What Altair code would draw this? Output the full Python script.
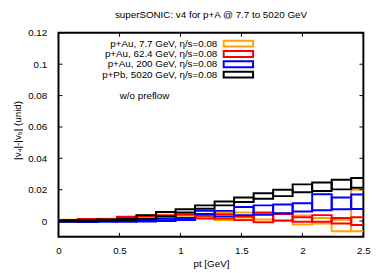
import altair as alt
import pandas as pd

# ---------------- data ----------------
bin_edges = [0.00, 0.16, 0.32, 0.48, 0.64, 0.80, 0.96, 1.12, 1.28, 1.44,
             1.60, 1.76, 1.92, 2.08, 2.24, 2.40, 2.56]

series_names = ["p+Au, 7.7 GeV, η/s=0.08", "p+Au, 62.4 GeV, η/s=0.08",
                "p+Au, 200 GeV, η/s=0.08", "p+Pb, 5020 GeV, η/s=0.08"]
series_colors = ["#FFA500", "#FF0000", "#0000FF", "#000000"]

orange_lo = [0.0002, 0.0000, 0.0005, 0.0005, 0.0015, 0.0020, 0.0025, 0.0028,
             0.0006, 0.0010, 0.0010, 0.0000, -0.0022, -0.0015, -0.0065, -0.0065]
orange_hi = [0.0008, 0.0010, 0.0015, 0.0020, 0.0038, 0.0040, 0.0045, 0.0038,
             0.0054, 0.0054, 0.0052, 0.0048, 0.0036, 0.0020, 0.0008, 0.0200]

red_lo = [0.0000, 0.0003, 0.0003, 0.0010, 0.0010, 0.0015, 0.0020, 0.0017,
          0.0017, 0.0006, -0.0008, 0.0004, -0.0004, -0.0004, -0.0015, -0.0025]
red_hi = [0.0005, 0.0013, 0.0010, 0.0027, 0.0030, 0.0035, 0.0040, 0.0034,
          0.0044, 0.0028, 0.0054, 0.0045, 0.0025, 0.0038, 0.0019, 0.0025]

blue_lo = [-0.0005, -0.0006, -0.0004, -0.0004, -0.0003, 0.0000, 0.0007, 0.0045,
           0.0030, 0.0038, 0.0040, 0.0050, 0.0061, 0.0069, 0.0075, 0.0077]
blue_hi = [0.0000, 0.0000, 0.0002, 0.0003, 0.0010, 0.0015, 0.0020, 0.0065,
           0.0065, 0.0090, 0.0100, 0.0105, 0.0114, 0.0171, 0.0150, 0.0170]

black_lo = [-0.0003, -0.0002, 0.0000, 0.0003, 0.0015, 0.0030, 0.0054, 0.0079,
            0.0100, 0.0121, 0.0142, 0.0159, 0.0184, 0.0192, 0.0202, 0.0212]
black_hi = [0.0005, 0.0006, 0.0010, 0.0015, 0.0038, 0.0058, 0.0075, 0.0100,
            0.0125, 0.0150, 0.0178, 0.0200, 0.0234, 0.0246, 0.0263, 0.0275]

x_ticks = [0, 0.5, 1, 1.5, 2, 2.5]
y_ticks = [0, 0.02, 0.04, 0.06, 0.08, 0.1, 0.12]

title_text = "superSONIC: v4 for p+A @ 7.7 to 5020 GeV"
x_title = "pt [GeV]"
y_title = "|v₄|-|v₅| (unid)"
note_text = "w/o preflow"

# ---------------- tables ----------------
lows = [orange_lo, red_lo, blue_lo, black_lo]
highs = [orange_hi, red_hi, blue_hi, black_hi]
rows = []
for name, lo, hi in zip(series_names, lows, highs):
    for i in range(len(lo)):
        rows.append({"series": name, "x0": bin_edges[i], "x1": bin_edges[i + 1],
                     "lo": lo[i], "hi": hi[i]})
df = pd.DataFrame(rows)

leg_df = pd.DataFrame({"label": series_names, "color": series_colors,
                       "row": list(range(len(series_names)))})

W, H = 311, 208
FONT = "Liberation Sans"

xscale = alt.Scale(domain=[0, 2.5], nice=False, zero=False)
yscale = alt.Scale(domain=[-0.01, 0.12], nice=False, zero=False)

x_axis = alt.Axis(values=x_ticks, format=".1~f", tickSize=0, domain=False,
                  grid=False, labelPadding=9, labelFlush=False,
                  labelOverlap=False, labelFont=FONT, labelFontSize=10,
                  labelColor="black", title=x_title, titleFont=FONT,
                  titleFontSize=10, titleFontWeight="normal",
                  titleColor="black", titleX=W / 2, titleY=27.5,
                  titleBaseline="middle")
y_axis = alt.Axis(values=y_ticks, format=".2~f", tickSize=0, domain=False,
                  grid=False, labelPadding=12, labelFlush=False,
                  labelOverlap=False, labelFont=FONT, labelFontSize=10,
                  labelColor="black", title=y_title, titleFont=FONT,
                  titleFontSize=10, titleFontWeight="normal",
                  titleColor="black", titleX=-41.5, titleY=H / 2 - 5,
                  titleBaseline="middle")

boxes = alt.Chart(df).mark_rect(fillOpacity=0, strokeWidth=2, clip=True).encode(
    x=alt.X("x0:Q", scale=xscale, axis=x_axis, title=x_title),
    x2="x1:Q",
    y=alt.Y("lo:Q", scale=yscale, axis=y_axis, title=y_title),
    y2="hi:Q",
    stroke=alt.Stroke("series:N", scale=alt.Scale(domain=series_names,
                                                   range=series_colors),
                      legend=None),
)

xt = pd.DataFrame({"t": x_ticks})
yt = pd.DataFrame({"t": y_ticks})
tick_len = 4
xt_bottom = alt.Chart(xt).mark_rule(color="black", strokeWidth=1).encode(
    x=alt.X("t:Q", scale=xscale, axis=x_axis, title=x_title),
    y=alt.value(H), y2=alt.value(H - tick_len))
xt_top = alt.Chart(xt).mark_rule(color="black", strokeWidth=1).encode(
    x=alt.X("t:Q", scale=xscale, axis=x_axis, title=x_title),
    y=alt.value(0), y2=alt.value(tick_len))
yt_left = alt.Chart(yt).mark_rule(color="black", strokeWidth=1).encode(
    y=alt.Y("t:Q", scale=yscale, axis=None), x=alt.value(0), x2=alt.value(tick_len))
yt_right = alt.Chart(yt).mark_rule(color="black", strokeWidth=1).encode(
    y=alt.Y("t:Q", scale=yscale, axis=None), x=alt.value(W), x2=alt.value(W - tick_len))

legscale = alt.Scale(domain=[0, 3], range=[11, 42.6])
leg_text = alt.Chart(leg_df).mark_text(align="right", baseline="middle",
                                       font=FONT, fontSize=10, color="black").encode(
    x=alt.value(162), y=alt.Y("row:Q", scale=legscale, axis=None), text="label:N")
leg_sym = alt.Chart(leg_df).mark_point(shape="M-1,-0.2H1V0.2H-1Z", size=900,
                                       filled=False, strokeWidth=2, opacity=1).encode(
    x=alt.value(183.5), y=alt.Y("row:Q", scale=legscale, axis=None),
    stroke=alt.Stroke("color:N", scale=None))

note = alt.Chart(pd.DataFrame({"t": [note_text]})).mark_text(
    align="left", baseline="middle", font=FONT, fontSize=10, color="black").encode(
    x=alt.value(62.5), y=alt.value(64.3), text="t:N")

title = alt.Chart(pd.DataFrame({"t": [title_text]})).mark_text(
    align="center", baseline="alphabetic", font=FONT, fontSize=10, color="black").encode(
    x=alt.value(W / 2), y=alt.value(-14.7), text="t:N")

chart = alt.layer(boxes, xt_bottom, xt_top, yt_left, yt_right, leg_text, leg_sym,
                  note, title
                  ).resolve_scale(y="independent").properties(
    width=W, height=H,
    autosize=alt.AutoSizeParams(type="none"),
    padding={"left": 51.5, "top": 22.7, "right": 19, "bottom": 34},
).configure_view(stroke="black", strokeWidth=2)

chart.save("out.html", embed_options={"renderer": "svg", "actions": False})
